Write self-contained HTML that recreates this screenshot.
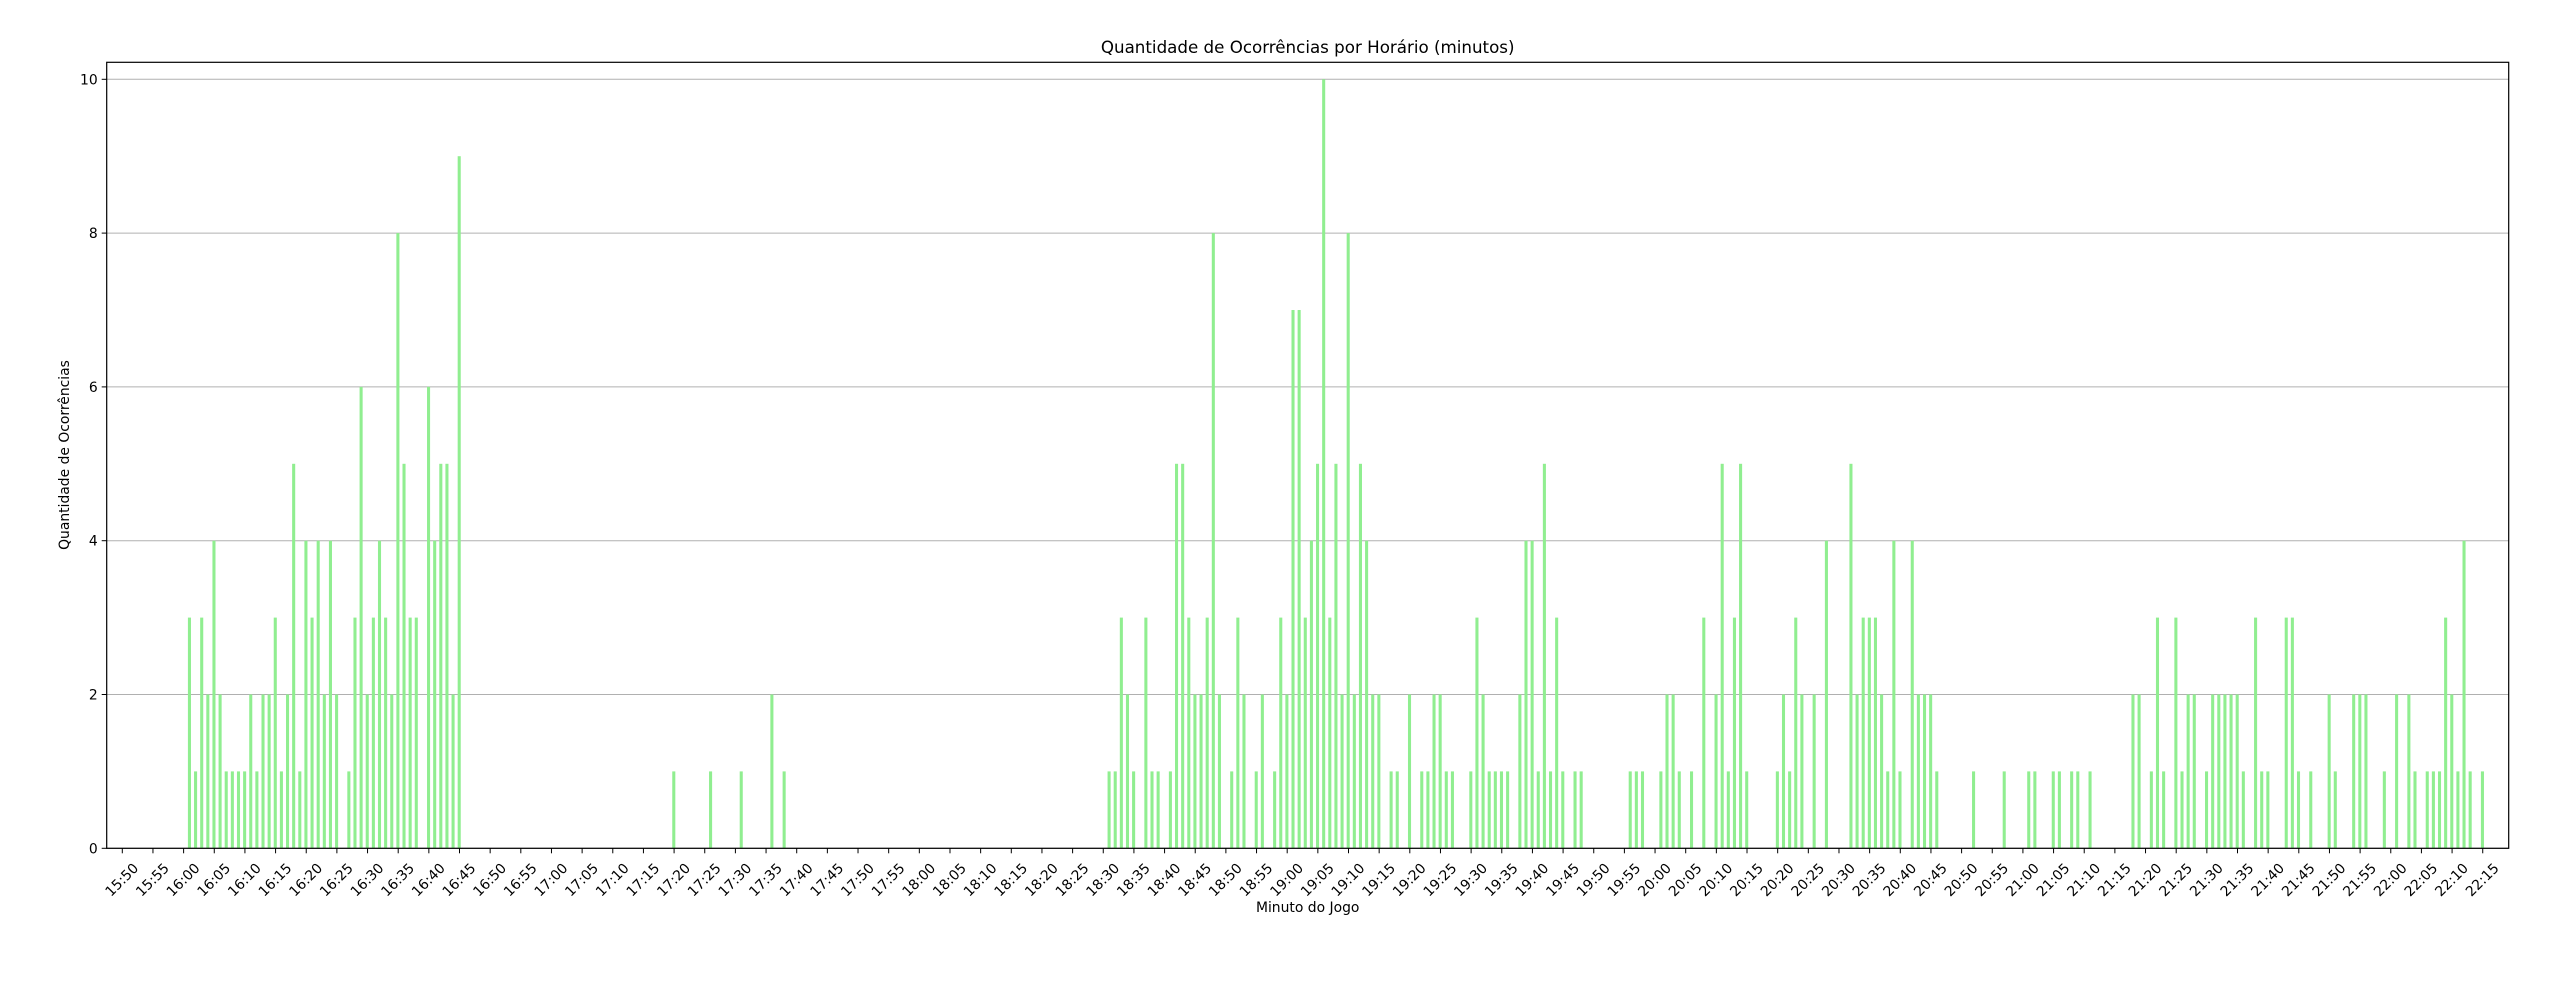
<!DOCTYPE html>
<html><head><meta charset="utf-8"><style>
html,body{margin:0;padding:0;background:#fff;}
svg{display:block;font-family:"DejaVu Sans","Liberation Sans",sans-serif;}
</style></head><body>
<svg id="chart" width="2560" height="983" viewBox="0 0 2560 983" xmlns="http://www.w3.org/2000/svg">
<rect width="2560" height="983" fill="#fff"/>
<text x="1307.7" y="53" text-anchor="middle" font-size="16.7" fill="#000">Quantidade de Ocorrências por Horário (minutos)</text>
<text transform="translate(69,455) rotate(-90)" text-anchor="middle" font-size="13.9" fill="#000">Quantidade de Ocorrências</text>
<text x="1307.7" y="912" text-anchor="middle" font-size="13.9" fill="#000">Minuto do Jogo</text>
<g id="grid"></g><g id="bars"></g><g id="axes"></g>
</svg>
<script>
// minutes after 15:50
const minutes = [11,12,13,14,15,16,17,18,19,20,21,22,23,24,25,26,27,28,29,30,31,32,33,34,35,37,38,39,40,41,42,43,44,45,46,47,48,50,51,52,53,54,55,
90,96,101,106,108,
161,162,163,164,165,167,168,169,171,172,173,174,175,176,177,178,179,181,182,183,185,186,188,189,190,191,192,193,194,195,196,197,198,199,200,201,202,203,204,205,207,208,210,212,213,214,215,216,217,220,221,222,223,224,
225,226,228,229,230,231,232,233,234,235,237,238,246,247,248,251,252,253,254,256,258,260,261,262,263,264,265,270,271,272,273,274,276,278,282,283,284,285,286,
287,288,289,290,292,293,294,295,296,302,307,311,312,315,316,318,319,321,328,329,331,332,333,335,336,337,338,340,341,342,343,344,345,346,348,349,350,353,354,355,357,360,361,364,365,366,369,371,373,374,376,377,378,379,380,381,382,383,385];
const counts = [3,1,3,2,4,2,1,1,1,1,2,1,2,2,3,1,2,5,1,4,3,4,2,4,2,1,3,6,2,3,4,3,2,8,5,3,3,6,4,5,5,2,9,
1,1,1,2,1,
1,1,3,2,1,3,1,1,1,5,5,3,2,2,3,8,2,1,3,2,1,2,1,3,2,7,7,3,4,5,10,3,5,2,8,2,5,4,2,2,1,1,2,1,1,2,2,1,1,1,3,2,1,1,
1,1,2,4,4,1,5,1,3,1,1,1,1,1,1,1,2,2,1,1,3,2,5,1,3,5,1,1,2,1,3,2,2,4,5,2,3,3,3,
2,1,4,1,4,2,2,2,1,1,1,1,1,1,1,1,1,1,2,2,1,3,1,3,1,2,2,1,2,2,2,2,2,1,3,1,1,3,3,1,1,2,1,2,2,2,1,2,2,1,1,1,1,3,2,1,4,1,1];
const yTicks = [0,2,4,6,8,10];
const xTickCount = 78; // 15:50 .. 22:15 every 5 min

const NS="http://www.w3.org/2000/svg";
const L=106.7,R=2508.7,T=62.3,B=848.3;
const x0=122.3, pxPerMin=6.131;
const xs=m=>x0+m*pxPerMin;
const ys=v=>B-v*(B-79.3)/10;
function mk(tag,attrs,parent){const e=document.createElementNS(NS,tag);for(const k in attrs)e.setAttribute(k,attrs[k]);parent.appendChild(e);return e;}
const grid=document.getElementById('grid'),bars=document.getElementById('bars'),axes=document.getElementById('axes');
yTicks.forEach(v=>{
  const y=ys(v);
  const gl=mk('line',{x1:L,x2:R,y1:y,y2:y,stroke:'#b0b0b0','stroke-width':1},grid);
  
  
  mk('line',{x1:L-5,x2:L,y1:y,y2:y,stroke:'#000','stroke-width':1},axes);
  const t=mk('text',{x:L-9,y:y+5,'text-anchor':'end','font-size':13.9},axes);
  t.textContent=String(v);
  
  
});
const bw=pxPerMin*0.5;
minutes.forEach((m,i)=>{
  const x=xs(m)-0.3, v=counts[i];
  const r=mk('rect',{x:x-bw/2,y:ys(v),width:bw,height:B-ys(v),fill:'#90ee90'},bars);
  
  
});
for(let k=0;k<xTickCount;k++){
  const m=k*5, x=xs(m);
  mk('line',{x1:x,x2:x,y1:B,y2:B+5,stroke:'#000','stroke-width':1},axes);
  const tot=15*60+50+m, hh=Math.floor(tot/60), mm=tot%60;
  const lab=hh+':'+(mm<10?'0':'')+mm;
  const t=mk('text',{transform:`translate(${x},${B+32}) rotate(-45)`,'text-anchor':'middle','dominant-baseline':'middle','font-size':13.9},axes);
  t.textContent=lab;
  
  
}
const frame=mk('rect',{x:L,y:T,width:R-L,height:B-T,fill:'none',stroke:'#000','stroke-width':1.2},axes);


</script>
</body></html>
